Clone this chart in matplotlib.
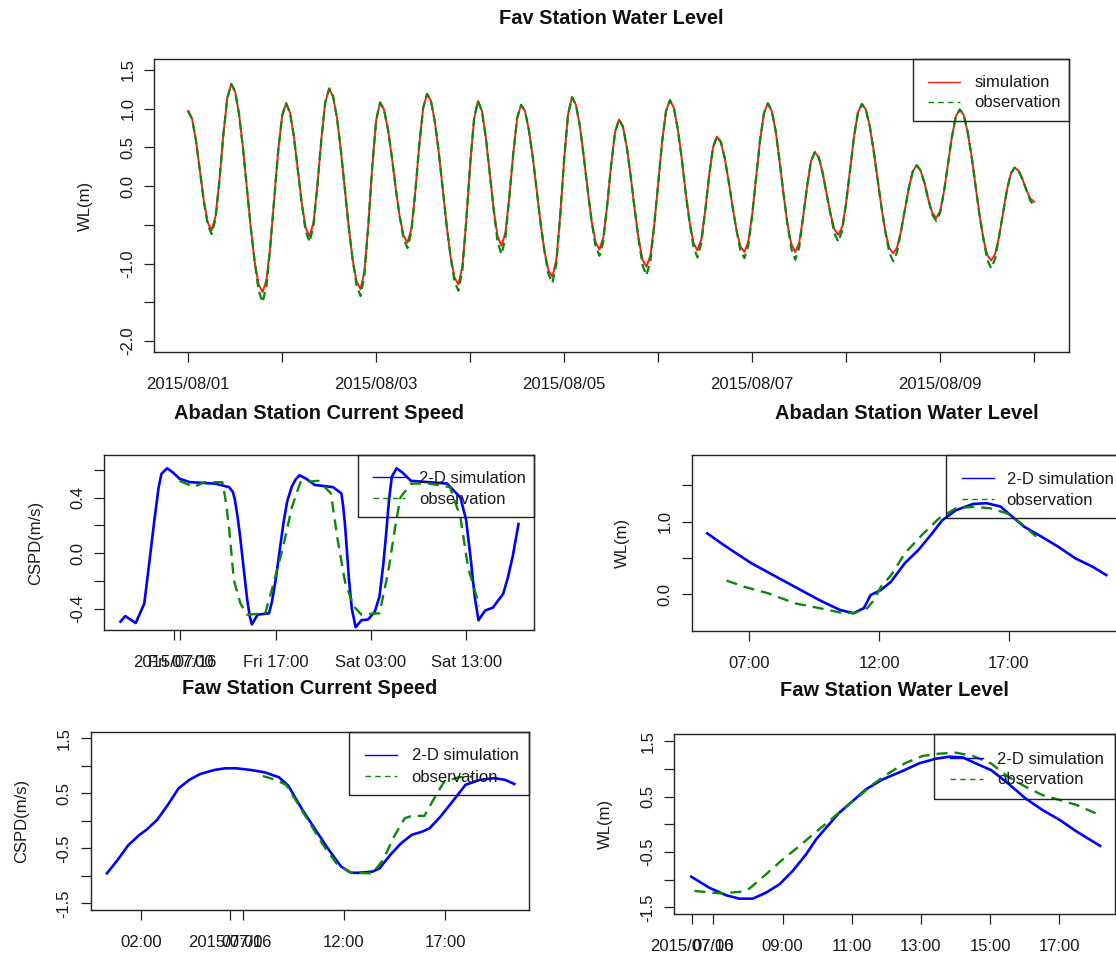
import matplotlib
matplotlib.use("Agg")
import matplotlib.pyplot as plt
from matplotlib.lines import Line2D
from matplotlib.patches import Rectangle
from matplotlib.transforms import Affine2D

plt.rcParams['font.family'] = ['Liberation Sans', 'DejaVu Sans']
plt.rcParams['lines.scale_dashes'] = False

W, H = 1116, 955

# ---------------- data ----------------
# Fav station water level, hourly from 2015/08/01 00:00
fav_hours = list(range(217))
fav_sim = [
    0.97, 0.87, 0.59, 0.20, -0.19, -0.47, -0.57, -0.39, 0.08, 0.67, 1.14, 1.32,
    1.22, 0.93, 0.49, -0.03, -0.54, -0.98, -1.27, -1.37, -1.21, -0.76, -0.15, 0.46,
    0.91, 1.07, 0.95, 0.64, 0.21, -0.22, -0.54, -0.65, -0.47, 0.01, 0.60, 1.08,
    1.26, 1.16, 0.88, 0.46, -0.04, -0.53, -0.95, -1.23, -1.33, -1.10, -0.50, 0.25,
    0.85, 1.08, 0.99, 0.74, 0.38, -0.03, -0.39, -0.64, -0.73, -0.55, -0.07, 0.53,
    1.01, 1.19, 1.10, 0.83, 0.43, -0.04, -0.51, -0.91, -1.18, -1.27, -1.04, -0.45,
    0.28, 0.87, 1.10, 0.97, 0.63, 0.17, -0.30, -0.65, -0.77, -0.60, -0.14, 0.42,
    0.88, 1.05, 0.97, 0.72, 0.37, -0.06, -0.49, -0.85, -1.09, -1.17, -0.95, -0.37,
    0.35, 0.93, 1.15, 1.05, 0.78, 0.38, -0.05, -0.45, -0.72, -0.82, -0.66, -0.24,
    0.28, 0.70, 0.86, 0.77, 0.50, 0.12, -0.30, -0.68, -0.95, -1.04, -0.90, -0.50,
    0.04, 0.57, 0.97, 1.11, 1.01, 0.74, 0.36, -0.08, -0.46, -0.73, -0.83, -0.69,
    -0.32, 0.13, 0.50, 0.64, 0.57, 0.36, 0.06, -0.27, -0.57, -0.78, -0.85, -0.72,
    -0.37, 0.11, 0.59, 0.94, 1.07, 0.97, 0.71, 0.32, -0.10, -0.49, -0.75, -0.85,
    -0.73, -0.40, -0.01, 0.32, 0.44, 0.37, 0.17, -0.10, -0.36, -0.56, -0.63, -0.52,
    -0.21, 0.22, 0.64, 0.95, 1.06, 0.99, 0.78, 0.46, 0.10, -0.27, -0.59, -0.80,
    -0.87, -0.79, -0.58, -0.30, -0.02, 0.19, 0.27, 0.20, 0.04, -0.18, -0.35, -0.41,
    -0.32, -0.06, 0.29, 0.64, 0.90, 0.99, 0.92, 0.70, 0.39, 0.02, -0.36, -0.67,
    -0.89, -0.96, -0.88, -0.66, -0.36, -0.06, 0.16, 0.24, 0.20, 0.09, -0.05, -0.16,
    -0.20]
fav_obs = [
    0.97, 0.87, 0.59, 0.20, -0.19, -0.50, -0.62, -0.42, 0.08, 0.67, 1.14, 1.32,
    1.22, 0.93, 0.49, -0.03, -0.54, -0.98, -1.35, -1.50, -1.29, -0.76, -0.15, 0.46,
    0.91, 1.07, 0.95, 0.64, 0.21, -0.22, -0.58, -0.72, -0.51, 0.01, 0.60, 1.08,
    1.26, 1.16, 0.88, 0.46, -0.04, -0.53, -0.95, -1.28, -1.42, -1.15, -0.50, 0.25,
    0.85, 1.08, 0.99, 0.74, 0.38, -0.03, -0.39, -0.68, -0.80, -0.59, -0.07, 0.53,
    1.01, 1.19, 1.10, 0.83, 0.43, -0.04, -0.51, -0.91, -1.23, -1.35, -1.09, -0.45,
    0.28, 0.87, 1.10, 0.97, 0.63, 0.17, -0.30, -0.72, -0.88, -0.67, -0.14, 0.42,
    0.88, 1.05, 0.97, 0.72, 0.37, -0.06, -0.49, -0.85, -1.14, -1.25, -1.00, -0.37,
    0.35, 0.93, 1.15, 1.05, 0.78, 0.38, -0.05, -0.45, -0.77, -0.90, -0.71, -0.24,
    0.28, 0.70, 0.86, 0.77, 0.50, 0.12, -0.30, -0.68, -1.02, -1.15, -0.97, -0.50,
    0.04, 0.57, 0.97, 1.11, 1.01, 0.74, 0.36, -0.08, -0.46, -0.78, -0.92, -0.74,
    -0.32, 0.13, 0.50, 0.64, 0.57, 0.36, 0.06, -0.27, -0.57, -0.83, -0.93, -0.77,
    -0.37, 0.11, 0.59, 0.94, 1.07, 0.97, 0.71, 0.32, -0.10, -0.49, -0.81, -0.95,
    -0.79, -0.40, -0.01, 0.32, 0.44, 0.37, 0.17, -0.10, -0.36, -0.61, -0.72, -0.57,
    -0.21, 0.22, 0.64, 0.95, 1.06, 0.99, 0.78, 0.46, 0.10, -0.27, -0.59, -0.86,
    -0.97, -0.85, -0.58, -0.30, -0.02, 0.19, 0.27, 0.20, 0.04, -0.18, -0.37, -0.45,
    -0.34, -0.06, 0.29, 0.64, 0.90, 0.99, 0.92, 0.70, 0.39, 0.02, -0.36, -0.67,
    -0.95, -1.06, -0.94, -0.66, -0.36, -0.06, 0.16, 0.24, 0.20, 0.09, -0.05, -0.19,
    -0.25]
fav_xticks = [0, 1, 2, 3, 4, 5, 6, 7, 8, 9]   # days since 2015/08/01
fav_xlabels = ['2015/08/01', '', '2015/08/03', '', '2015/08/05', '',
               '2015/08/07', '', '2015/08/09', '']
fav_yticks = [-2.0, -1.5, -1.0, -0.5, 0.0, 0.5, 1.0, 1.5]
fav_ylabels = ['-2.0', '', '-1.0', '', '0.0', '0.5', '1.0', '1.5']

# Abadan current speed (hours since Fri 00:00)
ab_cs_sim_h = [0.7, 1.2, 2.3, 3.2, 3.7, 4.3, 4.7, 5.0, 5.6, 6.2, 6.9, 8.0, 10.6,
               12.1, 12.5, 12.7, 13.0, 13.3, 14.0, 14.3, 14.5, 15.1, 16.3, 16.6,
               17.0, 17.8, 18.2, 18.7, 19.1, 19.5, 20.2, 21.1, 23.0, 23.9, 24.1,
               24.3, 24.7, 25.0, 25.4, 26.0, 26.7, 27.4, 27.9, 28.3, 28.6, 28.9,
               29.2, 29.7, 30.3, 31.2, 33.1, 35.0, 36.4, 37.0, 37.5, 37.9, 38.3,
               39.0, 39.8, 40.9, 41.4, 41.9, 42.5]
ab_cs_sim = [-0.49, -0.45, -0.50, -0.36, -0.08, 0.26, 0.47, 0.57, 0.61, 0.58,
             0.535, 0.51, 0.50, 0.475, 0.44, 0.39, 0.26, 0.10, -0.33, -0.46, -0.51,
             -0.44, -0.43, -0.35, -0.19, 0.21, 0.37, 0.48, 0.53, 0.56, 0.535, 0.49,
             0.475, 0.43, 0.33, 0.19, -0.19, -0.40, -0.53, -0.48, -0.475, -0.42,
             -0.31, -0.08, 0.14, 0.38, 0.55, 0.61, 0.58, 0.52, 0.51, 0.50, 0.40,
             0.24, -0.05, -0.31, -0.48, -0.41, -0.39, -0.29, -0.17, -0.02, 0.21]
ab_cs_obs_h = [6.9, 8.4, 9.5, 11.4, 11.7, 12.1, 12.6, 13.3, 14.0, 15.9, 16.6, 17.8,
               18.7, 19.6, 21.5, 22.8, 23.5, 24.3, 25.2, 26.0, 27.9, 28.8, 29.6,
               30.1, 31.2, 33.1, 35.3, 36.4, 37.2, 38.1, 38.3]
ab_cs_obs = [0.52, 0.475, 0.51, 0.51, 0.40, 0.19, -0.19, -0.36, -0.44, -0.43,
             -0.26, 0.05, 0.33, 0.51, 0.52, 0.43, 0.10, -0.21, -0.38, -0.44, -0.43,
             -0.14, 0.21, 0.40, 0.50, 0.50, 0.475, 0.26, -0.10, -0.31, -0.38]
ab_cs_xticks = [6.37, 7, 17, 27, 37]
ab_cs_xlabels = ['2015/07/16', 'Fri 07:00', 'Fri 17:00', 'Sat 03:00', 'Sat 13:00']
ab_cs_yticks = [-0.4, -0.2, 0.0, 0.2, 0.4, 0.6]
ab_cs_ylabels = ['-0.4', '', '0.0', '', '0.4', '']

# Abadan water level (hours of 2015/07/16)
ab_wl_sim_h = [5.38, 6.01, 7.07, 8.38, 9.70, 10.49, 11.01, 11.41, 11.67, 12.07,
               12.46, 12.99, 13.51, 14.04, 14.43, 14.96, 15.62, 16.14, 16.67,
               17.19, 17.59, 18.25, 18.90, 19.56, 20.22, 20.75]
ab_wl_sim = [0.84, 0.68, 0.43, 0.175, -0.08, -0.215, -0.26, -0.19, -0.01, 0.06,
             0.175, 0.43, 0.61, 0.84, 1.02, 1.16, 1.245, 1.255, 1.21, 1.05, 0.93,
             0.795, 0.655, 0.495, 0.38, 0.265]
ab_wl_obs_h = [6.12, 6.80, 7.72, 8.77, 9.70, 10.49, 11.01, 11.54, 11.80, 12.07,
               12.46, 12.99, 13.64, 14.30, 14.96, 15.62, 16.28, 16.93, 17.46, 18.05]
ab_wl_obs = [0.19, 0.105, 0.015, -0.125, -0.19, -0.25, -0.26, -0.19, -0.08, 0.105,
             0.265, 0.565, 0.815, 1.045, 1.185, 1.205, 1.185, 1.115, 0.98, 0.795]
ab_wl_xticks = [7, 12, 17]
ab_wl_xlabels = ['07:00', '12:00', '17:00']
ab_wl_yticks = [0.0, 0.5, 1.0, 1.5]
ab_wl_ylabels = ['0.0', '', '1.0', '']

# Faw current speed (hours of 2015/07/16)
fw_cs_sim_h = [0.32, 0.85, 1.38, 1.91, 2.26, 2.79, 3.32, 3.85, 4.38, 4.91, 5.62,
               6.15, 6.68, 7.39, 8.10, 8.80, 9.25, 9.6, 9.95, 10.57, 11.2, 11.85,
               12.34, 12.69, 13.40, 13.75, 14.28, 14.81, 15.34, 15.87, 16.22,
               16.75, 17.28, 17.99, 18.70, 19.40, 19.93, 20.39]
fw_cs_sim = [-0.955, -0.71, -0.44, -0.26, -0.165, 0.015, 0.29, 0.59, 0.745, 0.85,
             0.925, 0.955, 0.955, 0.925, 0.88, 0.79, 0.64, 0.42, 0.20, -0.15,
             -0.50, -0.83, -0.945, -0.945, -0.925, -0.865, -0.62, -0.41, -0.255,
             -0.195, -0.135, 0.075, 0.32, 0.655, 0.745, 0.775, 0.745, 0.67]
fw_cs_obs_h = [8.0, 8.62, 9.15, 9.86, 10.92, 11.63, 12.34, 13.40, 13.93, 14.46,
               14.99, 15.34, 15.96, 16.40, 16.93, 17.64, 18.35]
fw_cs_obs = [0.815, 0.745, 0.655, 0.23, -0.41, -0.775, -0.945, -0.955, -0.71, -0.29,
             0.045, 0.09, 0.09, 0.38, 0.71, 0.79, 0.805]
fw_cs_xticks = [2, 6.37, 7, 12, 17]
fw_cs_xlabels = ['02:00', '2015/07/16', '07:00', '12:00', '17:00']
fw_cs_yticks = [-1.5, -1.0, -0.5, 0.0, 0.5, 1.0, 1.5]
fw_cs_ylabels = ['-1.5', '', '-0.5', '', '0.5', '', '1.5']

# Faw water level (hours of 2015/07/16)
fw_wl_sim_h = [6.36, 6.88, 7.37, 7.75, 8.14, 8.52, 8.91, 9.29, 9.68, 9.97, 10.26,
               10.64, 11.03, 11.41, 11.90, 12.47, 12.95, 13.44, 13.82, 14.21,
               14.54, 15.03, 15.52, 16.02, 16.51, 17.01, 17.50, 18.18]
fw_wl_sim = [-0.947, -1.146, -1.283, -1.344, -1.344, -1.236, -1.085, -0.844,
             -0.543, -0.271, -0.06, 0.21, 0.422, 0.633, 0.815, 0.965, 1.104, 1.187,
             1.223, 1.21, 1.115, 0.98, 0.74, 0.47, 0.26, 0.08, -0.13, -0.39]
fw_wl_obs_h = [6.45, 7.17, 7.75, 8.04, 8.52, 9.01, 9.49, 9.88, 10.35, 10.74, 11.22,
               11.61, 12.09, 12.57, 13.05, 13.53, 14.01, 14.50, 15.03, 15.52, 16.02,
               16.51, 17.01, 17.50, 18.05]
fw_wl_obs = [-1.205, -1.247, -1.223, -1.163, -0.904, -0.632, -0.392, -0.18, 0.06,
             0.272, 0.513, 0.724, 0.934, 1.115, 1.236, 1.278, 1.296, 1.236, 1.10,
             0.86, 0.68, 0.53, 0.44, 0.35, 0.20]
fw_wl_xticks = [6.37, 7, 9, 11, 13, 15, 17]
fw_wl_xlabels = ['2015/07/16', '07:00', '09:00', '11:00', '13:00', '15:00', '17:00']
fw_wl_yticks = [-1.5, -1.0, -0.5, 0.0, 0.5, 1.0, 1.5]
fw_wl_ylabels = ['-1.5', '', '-0.5', '', '0.5', '', '1.5']

# ---------------- figure ----------------
fig = plt.figure(figsize=(W / 100, H / 100), dpi=100)
to_fig = Affine2D().scale(1.0 / W, -1.0 / H).translate(0, 1) + fig.transFigure

RED = '#FF1A1A'
GREEN = '#078A07'
BLUE = '#0000FF'


def px_axes(l, t, r, b):
    return fig.add_axes([l / W, 1 - b / H, (r - l) / W, (b - t) / H])


def style(ax, xt, xl, yt, yl, xlim, ylim):
    ax.set_xlim(*xlim)
    ax.set_ylim(*ylim)
    ax.set_xticks(xt)
    ax.set_xticklabels(xl)
    ax.set_yticks(yt)
    ax.set_yticklabels(yl, rotation=90, va='center')
    for s in ax.spines.values():
        s.set_linewidth(1.0)
        s.set_color('#222222')
    ax.tick_params(direction='out', length=7.2, width=0.9, labelsize=12,
                   colors='#222222', labelcolor='#1a1a1a')
    ax.tick_params(axis='x', pad=10.5)
    ax.tick_params(axis='y', pad=6.5)


def titles(l, t, r, b, title, ylabel, ty):
    fig.text(((l + r) / 2) / W, 1 - ty / H, title, ha='center', va='center',
             fontsize=14.4, fontweight='bold', color='#111111')
    fig.text((l - 69) / W, 1 - ((t + b) / 2) / H, ylabel, rotation=90,
             ha='center', va='center', fontsize=12, color='#1a1a1a')


def legend(box, lx, tx, rows):
    x0, y0, x1, y1 = box
    fig.add_artist(Rectangle((x0, y0), x1 - x0, y1 - y0, transform=to_fig,
                             fill=False, ec='#222222', lw=1.0))
    for y, label, color, dashed in rows:
        ls = (0, (4, 3)) if dashed else '-'
        fig.add_artist(Line2D([lx[0], lx[1]], [y, y], transform=to_fig,
                              color=color, lw=1.0, linestyle=ls))
        fig.text(tx / W, 1 - (y + 1) / H, label, ha='left', va='center',
                 fontsize=12, color='#1a1a1a')


# ---- top panel: Fav Station Water Level ----
box = (154.3, 59.3, 1069, 352.3)
ax = px_axes(*box)
days = [h / 24.0 for h in fav_hours]
ax.plot(days, fav_sim, color=RED, lw=1.4, zorder=2)
ax.plot(days, fav_obs, color=GREEN, lw=1.6, dashes=(6, 3.5), zorder=3)
style(ax, fav_xticks, fav_xlabels, fav_yticks, fav_ylabels, (-0.36, 9.37), (-2.146, 1.638))
titles(*box, 'Fav Station Water Level', 'WL(m)', 18)
legend((912.7, 59.3, 1069, 121), (928.3, 960), 974.3,
       [(81.7, 'simulation', RED, False), (101.7, 'observation', GREEN, True)])

# ---- middle left: Abadan Station Current Speed ----
box = (104.3, 455, 534, 630)
ax = px_axes(*box)
ax.plot(ab_cs_sim_h, ab_cs_sim, color=BLUE, lw=1.9, zorder=2)
ax.plot(ab_cs_obs_h, ab_cs_obs, color=GREEN, lw=1.7, dashes=(8, 5), zorder=3)
style(ax, ab_cs_xticks, ab_cs_xlabels, ab_cs_yticks, ab_cs_ylabels, (-1.0, 44.13), (-0.55, 0.705))
titles(*box, 'Abadan Station Current Speed', 'CSPD(m/s)', 413)
legend((357.7, 455, 534, 517.3), (373.3, 405), 419.3,
       [(477.3, '2-D simulation', BLUE, False), (498.3, 'observation', GREEN, True)])

# ---- middle right: Abadan Station Water Level ----
box = (691.7, 455, 1122.7, 631)
ax = px_axes(*box)
ax.plot(ab_wl_sim_h, ab_wl_sim, color=BLUE, lw=1.9, zorder=2)
ax.plot(ab_wl_obs_h, ab_wl_obs, color=GREEN, lw=1.7, dashes=(8, 5), zorder=3)
style(ax, ab_wl_xticks, ab_wl_xlabels, ab_wl_yticks, ab_wl_ylabels, (4.78, 21.38), (-0.505, 1.919))
titles(*box, 'Abadan Station Water Level', 'WL(m)', 413)
legend((946, 455, 1122.7, 518.3), (961.7, 993.7), 1006.7,
       [(478.3, '2-D simulation', BLUE, False), (499, 'observation', GREEN, True)])

# ---- bottom left: Faw Station Current Speed ----
box = (90.7, 732.3, 529.3, 910)
ax = px_axes(*box)
ax.plot(fw_cs_sim_h, fw_cs_sim, color=BLUE, lw=1.9, zorder=2)
ax.plot(fw_cs_obs_h, fw_cs_obs, color=GREEN, lw=1.7, dashes=(8, 5), zorder=3)
style(ax, fw_cs_xticks, fw_cs_xlabels, fw_cs_yticks, fw_cs_ylabels, (-0.48, 21.13), (-1.622, 1.609))
titles(*box, 'Faw Station Current Speed', 'CSPD(m/s)', 688.3)
legend((348.7, 732.3, 529.3, 795), (365, 397.3), 411.7,
       [(755, '2-D simulation', BLUE, False), (776, 'observation', GREEN, True)])

# ---- bottom right: Faw Station Water Level ----
box = (674.3, 734.3, 1115, 914.3)
ax = px_axes(*box)
ax.plot(fw_wl_sim_h, fw_wl_sim, color=BLUE, lw=1.9, zorder=2)
ax.plot(fw_wl_obs_h, fw_wl_obs, color=GREEN, lw=1.7, dashes=(8, 5), zorder=3)
style(ax, fw_wl_xticks, fw_wl_xlabels, fw_wl_yticks, fw_wl_ylabels, (5.87, 18.61), (-1.627, 1.628))
titles(*box, 'Faw Station Water Level', 'WL(m)', 690)
legend((934.3, 734.3, 1115, 799), (950.3, 982.7), 997,
       [(758.3, '2-D simulation', BLUE, False), (779, 'observation', GREEN, True)])

fig.savefig('out.png', dpi=100)
